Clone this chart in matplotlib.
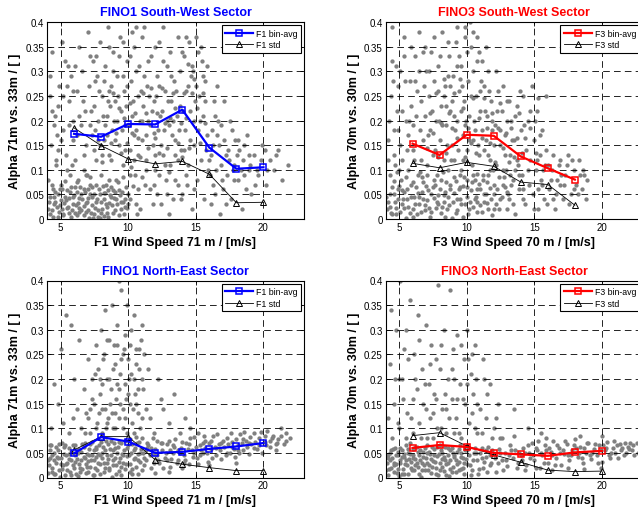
import matplotlib
matplotlib.use("Agg")
import matplotlib.pyplot as plt

plt.rcParams['font.family'] = ['Liberation Sans', 'DejaVu Sans']

# bin centres (wind speed, m/s)
bins = [6, 8, 10, 12, 14, 16, 18, 20]
bins_f3sw = [6, 8, 10, 12, 14, 16, 18]

# bin averages and standard deviations
f1_sw_avg = [0.173, 0.167, 0.193, 0.192, 0.222, 0.145, 0.102, 0.105]
f1_sw_std = [0.185, 0.149, 0.122, 0.112, 0.117, 0.091, 0.033, 0.034]
f3_sw_avg = [0.153, 0.130, 0.171, 0.169, 0.127, 0.103, 0.080]
f3_sw_std = [0.113, 0.104, 0.115, 0.107, 0.075, 0.070, 0.028]
f1_ne_avg = [0.049, 0.082, 0.073, 0.050, 0.052, 0.058, 0.063, 0.070]
f1_ne_std = [0.056, 0.083, 0.083, 0.036, 0.027, 0.020, 0.014, 0.014]
f3_ne_avg = [0.060, 0.066, 0.062, 0.050, 0.047, 0.044, 0.051, 0.054]
f3_ne_std = [0.085, 0.091, 0.064, 0.046, 0.031, 0.015, 0.012, 0.013]

# scatter clouds
f1_sw_pts = [
    (4.2,0.01),(4.5,0.03),(4.8,0.005),(5.1,0.02),(5.3,0.045),(5.6,0.012),(5.9,0.03),(6.2,0.008),(6.4,0.022),(6.6,0.04),
    (6.9,0.015),(7.1,0.003),(7.3,0.028),(7.5,0.05),(7.8,0.018),(8.0,0.035),(8.2,0.006),(8.4,0.025),(8.7,0.045),(8.9,0.012),
    (9.2,0.03),(9.5,0.02),(9.8,0.04),(4.6,0.055),(5.0,0.038),(5.5,0.058),(6.0,0.048),(6.8,0.055),(7.6,0.035),(8.5,0.058),
    (9.0,0.055),(9.7,0.01),(6.3,0.032),(7.0,0.042),(7.9,0.002),(8.8,0.028),(5.8,0.005),(4.9,0.015),(6.7,0.026),(9.4,0.048),
    (4.15,0.035),(4.35,0.018),(4.55,0.045),(4.75,0.025),(4.95,0.06),(5.15,0.008),(5.25,0.032),(5.45,0.022),(5.65,0.042),(5.85,0.018),
    (6.05,0.065),(6.15,0.028),(6.35,0.015),(6.55,0.05),(6.75,0.008),(6.95,0.035),(7.05,0.06),(7.25,0.012),(7.35,0.045),(7.55,0.022),
    (7.65,0.07),(7.75,0.004),(7.95,0.05),(8.05,0.02),(8.15,0.068),(8.25,0.04),(8.45,0.012),(8.55,0.032),(8.75,0.065),(8.95,0.042),
    (9.05,0.018),(9.25,0.075),(9.35,0.008),(9.55,0.055),(9.65,0.035),(9.85,0.065),(9.95,0.022),(10.15,0.04),(10.35,0.068),(10.55,0.03),
    (6.25,0.075),(7.15,0.085),(8.6,0.08),(5.35,0.078),(6.85,0.09),(4.4,0.07),(5.75,0.065),(7.4,0.002),(8.3,0.052),(9.6,0.085),
    (4.05,0.02),(4.25,0.045),(4.45,0.005),(4.6,0.035),(4.8,0.05),(4.95,0.028),(5.1,0.06),(5.2,0.01),(5.4,0.038),(5.55,0.025),
    (5.7,0.055),(5.9,0.045),(6.05,0.012),(6.2,0.055),(6.4,0.042),(6.55,0.018),(6.7,0.06),(6.85,0.032),(7.0,0.018),(7.2,0.05),
    (7.35,0.065),(7.5,0.01),(7.7,0.04),(7.85,0.06),(8.0,0.012),(8.2,0.052),(8.35,0.03),(8.5,0.005),(8.65,0.048),(8.85,0.058),
    (9.1,0.04),(9.3,0.058),(9.5,0.035),(9.75,0.025),(10.0,0.03),
    (4.1,0.08),(4.3,0.15),(4.4,0.34),(4.6,0.21),(4.7,0.11),(4.9,0.27),(5.0,0.07),(5.2,0.18),(5.3,0.32),(5.4,0.13),
    (5.6,0.24),(5.7,0.09),(5.8,0.29),(5.9,0.16),(4.2,0.25),(4.5,0.19),(5.1,0.36),(5.5,0.1),(4.8,0.14),(5.95,0.2),
    (4.25,0.29),(4.45,0.06),(4.65,0.12),(4.85,0.23),(5.05,0.16),(5.45,0.27),(5.65,0.19),(5.85,0.11),(6.05,0.31),(6.25,0.17),
    (6.65,0.24),(6.95,0.09),(7.25,0.22),(7.55,0.28),(7.75,0.16),
    (4.35,0.22),(4.75,0.17),(5.15,0.25),(5.55,0.31),(5.95,0.26),(6.35,0.21),(6.75,0.13),(7.15,0.33),(7.55,0.18),(7.95,0.15),
    (6.1,0.12),(6.2,0.26),(6.3,0.08),(6.4,0.35),(6.5,0.19),(6.6,0.3),(6.7,0.1),(6.8,0.22),(6.9,0.15),(7.0,0.38),
    (7.1,0.27),(7.2,0.07),(7.3,0.17),(7.4,0.32),(7.5,0.23),(7.6,0.12),(7.7,0.29),(7.8,0.2),(7.9,0.36),(8.0,0.09),
    (8.1,0.25),(8.2,0.16),(8.3,0.31),(8.4,0.21),(8.5,0.39),(8.6,0.13),(8.7,0.27),(8.8,0.18),(8.9,0.34),(9.0,0.24),
    (9.1,0.08),(9.2,0.29),(9.3,0.15),(9.4,0.37),(9.5,0.22),(9.6,0.11),(9.7,0.26),(9.8,0.19),(9.9,0.32),(8.35,0.07),
    (7.45,0.14),(6.45,0.065),(9.15,0.2),(8.65,0.23),(7.85,0.26),
    (8.05,0.13),(8.15,0.21),(8.25,0.28),(8.45,0.17),(8.55,0.26),(8.75,0.12),(8.85,0.3),(8.95,0.2),(9.05,0.16),(9.25,0.25),
    (9.35,0.33),(9.55,0.18),(9.65,0.29),(9.75,0.14),(9.85,0.23),(9.95,0.27),(10.05,0.19),(10.15,0.33),(10.35,0.24),(10.45,0.17),
    (10.55,0.3),(10.75,0.13),(10.95,0.26),(11.05,0.2),(11.15,0.29),(11.35,0.17),(11.55,0.25),(11.75,0.22),(11.95,0.13),(12.25,0.27),
    (12.35,0.21),(12.55,0.32),(12.65,0.18),(12.75,0.11),(12.95,0.24),(13.15,0.29),(13.35,0.2),(13.45,0.13),(13.55,0.26),(13.75,0.18),
    (13.85,0.23),(13.95,0.34),(14.05,0.22),(14.45,0.27),(14.55,0.16),(14.75,0.31),(14.95,0.24),(15.15,0.18),(15.35,0.35),(15.65,0.28),
    (10.1,0.09),(10.7,0.06),(11.3,0.1),(11.9,0.07),(12.3,0.09),(12.9,0.05),(13.5,0.08),(13.9,0.04),(14.3,0.09),(14.9,0.06),
    (11.0,0.37),(12.0,0.35),(12.6,0.39),(13.1,0.34),(13.7,0.37),(9.6,0.36),(10.6,0.39),(8.6,0.35),(7.6,0.33),(7.15,0.19),
    (8.1,0.115),(8.3,0.19),(8.5,0.24),(8.7,0.155),(8.9,0.255),(9.1,0.175),(9.3,0.225),(9.5,0.135),(9.7,0.205),(9.9,0.155),
    (10.1,0.235),(10.3,0.175),(10.5,0.215),(10.7,0.165),(10.9,0.125),(11.1,0.255),(11.3,0.215),(11.5,0.145),(11.7,0.265),(11.9,0.175),
    (12.1,0.215),(12.3,0.135),(12.5,0.265),(12.7,0.195),(12.9,0.145),(13.1,0.205),(13.3,0.255),(13.5,0.225),(13.7,0.155),(13.9,0.195),
    (14.1,0.255),(14.3,0.205),(14.5,0.145),(14.7,0.255),(14.9,0.285),(15.1,0.225),(15.3,0.155),(15.5,0.255),(15.7,0.195),(14.4,0.315),
    (10.2,0.105),(11.0,0.085),(12.0,0.165),(13.0,0.095),(14.0,0.125),
    (10.0,0.05),(10.1,0.14),(10.2,0.28),(10.3,0.21),(10.4,0.35),(10.5,0.09),(10.6,0.18),(10.7,0.25),(10.8,0.31),(10.9,0.02),
    (11.0,0.16),(11.1,0.23),(11.2,0.39),(11.3,0.12),(11.4,0.27),(11.5,0.2),(11.6,0.06),(11.7,0.33),(11.8,0.15),(11.9,0.24),
    (12.0,0.1),(12.1,0.29),(12.2,0.18),(12.3,0.36),(12.4,0.03),(12.5,0.22),(12.6,0.13),(12.7,0.26),(12.8,0.08),(12.9,0.31),
    (13.0,0.19),(13.1,0.11),(13.2,0.24),(13.3,0.04),(13.4,0.28),(13.5,0.16),(13.6,0.21),(13.7,0.07),(13.8,0.3),(13.9,0.14),
    (10.45,0.12),(10.85,0.2),(11.25,0.07),(11.65,0.19),(12.05,0.25),(12.45,0.15),(12.85,0.2),(13.25,0.17),(13.65,0.12),(10.25,0.38),
    (11.45,0.32),(10.65,0.01),(12.15,0.05),(13.05,0.01),(11.85,0.03),
    (14.0,0.05),(14.1,0.33),(14.2,0.18),(14.3,0.26),(14.4,0.11),(14.5,0.36),(14.6,0.22),(14.7,0.02),(14.8,0.3),(14.9,0.15),
    (15.0,0.27),(15.1,0.08),(15.2,0.34),(15.3,0.2),(15.4,0.12),(15.5,0.29),(15.6,0.04),(15.7,0.24),(15.8,0.17),(15.9,0.1),
    (14.25,0.37),(14.65,0.29),(15.05,0.37),(15.45,0.32),(14.35,0.07),(14.85,0.2),(15.25,0.25),(15.75,0.14),(14.15,0.14),(15.55,0.21),
    (16.0,0.12),(16.1,0.03),(16.2,0.18),(16.3,0.07),(16.4,0.21),(16.5,0.1),(16.7,0.15),(16.8,0.01),(16.9,0.19),(17.0,0.06),
    (17.2,0.13),(17.3,0.09),(17.5,0.2),(17.6,0.04),(17.8,0.11),(17.9,0.16),(18.1,0.08),(18.2,0.14),(18.4,0.02),(18.5,0.12),
    (18.7,0.06),(18.8,0.17),(18.9,0.1),(17.1,0.24),(16.6,0.27),
    (16.05,0.09),(16.25,0.15),(16.45,0.05),(16.65,0.2),(16.85,0.11),(17.05,0.16),(17.25,0.03),(17.45,0.12),(17.65,0.18),(17.85,0.08),
    (18.05,0.13),(18.35,0.1),(18.6,0.15),(19.0,0.11),(19.4,0.07),(19.8,0.12),(20.3,0.1),(20.9,0.13),(15.85,0.31),(16.35,0.24),
    (16.15,0.13),(16.55,0.17),(16.95,0.08),(17.35,0.14),(17.75,0.1),(18.15,0.16),(18.55,0.09),(18.95,0.13),(19.5,0.1),(20.1,0.14),
    (19.1,0.05),(19.3,0.13),(19.6,0.09),(19.9,0.15),(20.2,0.07),(20.5,0.12),(20.8,0.1),(21.1,0.14),(21.4,0.08),(21.8,0.11),
]

f3_sw_pts = [
    (4.1,0.02),(4.3,0.05),(4.5,0.01),(4.7,0.035),(4.9,0.06),(5.1,0.015),(5.3,0.04),(5.5,0.003),(5.7,0.025),(5.9,0.07),
    (6.1,0.045),(6.3,0.01),(6.5,0.03),(6.7,0.055),(6.9,0.018),(7.1,0.038),(7.3,0.005),(7.5,0.065),(7.7,0.022),(7.9,0.048),
    (8.1,0.012),(8.3,0.035),(8.5,0.075),(8.7,0.028),(8.9,0.002),(9.1,0.052),(9.3,0.018),(9.5,0.04),(9.7,0.068),(9.9,0.03),
    (10.1,0.01),(10.3,0.058),(10.5,0.024),(10.7,0.045),(10.9,0.072),(11.1,0.015),(11.3,0.05),(11.5,0.032),(11.7,0.062),(11.9,0.008),
    (4.6,0.078),(5.2,0.058),(6.0,0.02),(6.8,0.075),(7.6,0.042),(8.4,0.055),(9.2,0.078),(10.0,0.065),(10.8,0.035),(11.6,0.02),
    (4.2,0.035),(4.4,0.012),(4.6,0.05),(4.8,0.022),(5.0,0.068),(5.2,0.03),(5.4,0.055),(5.6,0.04),(5.8,0.012),(6.0,0.075),
    (6.2,0.03),(6.4,0.052),(6.6,0.014),(6.8,0.04),(7.0,0.068),(7.2,0.022),(7.4,0.05),(7.6,0.08),(7.8,0.035),(8.0,0.06),
    (8.2,0.025),(8.4,0.005),(8.6,0.045),(8.8,0.07),(9.0,0.035),(9.2,0.012),(9.4,0.06),(9.6,0.03),(9.8,0.085),(10.0,0.045),
    (10.2,0.02),(10.4,0.075),(10.6,0.04),(10.8,0.06),(11.0,0.028),(11.2,0.08),(11.4,0.05),(11.6,0.09),(11.8,0.04),(12.0,0.07),
    (12.2,0.03),(12.4,0.085),(12.6,0.045),(12.8,0.065),(13.0,0.02),(13.2,0.09),(7.05,0.09),(8.25,0.095),(9.55,0.1),(10.75,0.092),
    (5.55,0.085),(6.55,0.095),(4.85,0.095),(11.95,0.1),(12.7,0.1),
    (4.05,0.045),(4.3,0.025),(4.5,0.065),(4.75,0.01),(4.95,0.04),(5.15,0.08),(5.35,0.022),(5.6,0.06),(5.85,0.045),(6.05,0.005),
    (6.25,0.065),(6.5,0.045),(6.7,0.085),(6.95,0.028),(7.15,0.058),(7.4,0.015),(7.65,0.07),(7.9,0.03),(8.1,0.08),(8.3,0.048),
    (8.55,0.02),(8.8,0.06),(9.05,0.085),(9.3,0.04),(9.5,0.065),(9.75,0.005),(10.0,0.08),(10.25,0.035),(10.5,0.09),(10.75,0.015),
    (11.0,0.06),(11.25,0.035),(11.5,0.075),(11.75,0.1),(12.0,0.02),(12.25,0.06),(12.5,0.04),(12.75,0.085),(13.0,0.055),(13.3,0.07),
    (4.2,0.12),(4.4,0.25),(4.6,0.18),(4.8,0.31),(5.0,0.1),(5.2,0.22),(5.4,0.37),(5.6,0.14),(5.8,0.28),(6.0,0.19),
    (6.2,0.33),(6.4,0.09),(6.6,0.24),(6.8,0.16),(7.0,0.3),(4.5,0.39),(5.5,0.2),(6.5,0.38),(5.1,0.15),(6.1,0.12),
    (4.3,0.09),(5.9,0.35),(6.9,0.21),(4.9,0.27),(6.3,0.26),
    (4.25,0.2),(4.45,0.32),(4.65,0.13),(4.85,0.22),(5.05,0.3),(5.25,0.12),(5.45,0.28),(5.65,0.17),(5.85,0.23),(6.05,0.14),
    (6.25,0.21),(6.45,0.3),(6.65,0.12),(6.85,0.27),(6.95,0.35),
    (4.15,0.16),(4.55,0.28),(4.95,0.18),(5.35,0.33),(5.75,0.2),(6.15,0.28),(6.55,0.18),(6.75,0.34),(4.7,0.11),(5.7,0.1),
    (7.1,0.11),(7.2,0.25),(7.3,0.18),(7.4,0.34),(7.5,0.13),(7.6,0.28),(7.7,0.2),(7.8,0.09),(7.9,0.31),(8.0,0.16),
    (8.1,0.23),(8.2,0.38),(8.3,0.12),(8.4,0.27),(8.5,0.19),(8.6,0.1),(8.7,0.33),(8.8,0.22),(8.9,0.15),(9.0,0.29),
    (9.1,0.12),(9.2,0.36),(9.3,0.2),(9.4,0.26),(9.5,0.09),(9.6,0.31),(9.7,0.17),(9.8,0.24),(9.9,0.39),(10.0,0.14),
    (10.1,0.28),(10.2,0.21),(10.3,0.35),(10.4,0.11),(10.5,0.3),(10.6,0.18),(10.7,0.25),(10.8,0.37),(10.9,0.13),(11.0,0.22),
    (11.1,0.32),(11.2,0.09),(11.3,0.27),(11.4,0.16),(11.5,0.21),(11.6,0.3),(11.7,0.12),(11.8,0.24),(11.9,0.18),(9.45,0.33),
    (10.25,0.4),(9.85,0.19),(10.65,0.08),(8.45,0.23),(10.95,0.26),(9.05,0.21),(10.45,0.16),(11.25,0.14),(7.95,0.2),(8.75,0.27),
    (7.15,0.17),(7.25,0.3),(7.45,0.22),(7.65,0.14),(7.85,0.26),(8.05,0.33),(8.15,0.19),(8.35,0.25),(8.55,0.15),(8.65,0.29),
    (8.85,0.12),(8.95,0.24),(9.15,0.18),(9.25,0.31),(9.35,0.14),(9.55,0.22),(9.65,0.27),(9.75,0.12),(9.95,0.2),(10.05,0.34),
    (10.15,0.16),(10.35,0.25),(10.55,0.2),(10.75,0.32),(10.85,0.15),(11.05,0.28),(11.15,0.18),(11.35,0.22),(11.55,0.13),(11.65,0.26),
    (11.85,0.2),(12.05,0.15),(12.15,0.3),(12.25,0.22),(12.45,0.18),(12.65,0.27),(12.85,0.13),(12.95,0.2),(13.15,0.24),(13.35,0.16),
    (13.55,0.21),(13.75,0.12),(13.95,0.26),(14.25,0.19),(14.65,0.22),(15.05,0.2),(15.45,0.17),(15.85,0.14),(9.9,0.37),(10.5,0.38),
    (9.3,0.39),(8.6,0.36),(11.4,0.35),(10.9,0.34),(7.6,0.37),
    (7.1,0.145),(7.3,0.215),(7.5,0.175),(7.7,0.255),(7.9,0.125),(8.1,0.195),(8.3,0.285),(8.5,0.135),(8.7,0.215),(8.9,0.185),
    (9.1,0.255),(9.3,0.165),(9.5,0.285),(9.7,0.225),(9.9,0.125),(10.1,0.185),(10.3,0.155),(10.5,0.245),(10.7,0.135),(10.9,0.205),
    (11.1,0.165),(11.3,0.245),(11.5,0.185),(11.7,0.155),(11.9,0.215),(12.1,0.115),(12.3,0.185),(12.5,0.235),(12.7,0.145),(12.9,0.175),
    (13.1,0.115),(13.3,0.185),(13.5,0.125),(13.7,0.165),(13.9,0.215),(14.1,0.135),(14.3,0.165),(14.7,0.185),(15.1,0.135),(15.3,0.245),
    (12.0,0.05),(12.1,0.19),(12.2,0.11),(12.3,0.26),(12.4,0.02),(12.5,0.15),(12.6,0.22),(12.7,0.07),(12.8,0.17),(12.9,0.1),
    (13.0,0.24),(13.1,0.04),(13.2,0.13),(13.3,0.2),(13.4,0.08),(13.5,0.16),(13.6,0.01),(13.7,0.23),(13.8,0.11),(13.9,0.06),
    (14.0,0.18),(14.1,0.09),(14.2,0.25),(14.3,0.03),(14.4,0.14),(14.5,0.2),(14.6,0.07),(14.7,0.12),(14.8,0.27),(14.9,0.05),
    (15.0,0.16),(15.1,0.1),(15.2,0.22),(15.3,0.02),(15.4,0.13),(15.5,0.08),(15.6,0.18),(15.7,0.04),(15.8,0.11),(15.9,0.25),
    (13.05,0.05),(13.45,0.03),(13.85,0.09),(14.15,0.04),(14.55,0.1),(14.95,0.02),(15.25,0.06),(15.65,0.1),(15.95,0.03),(16.2,0.08),
    (16.6,0.05),(16.8,0.11),(17.2,0.07),(17.6,0.03),(17.8,0.12),(18.2,0.05),(18.6,0.1),(18.8,0.04),(17.0,0.09),(16.4,0.13),
    (15.6,0.07),(16.0,0.11),(16.4,0.04),(16.9,0.07),(17.4,0.11),(17.9,0.06),(18.4,0.09),(15.2,0.12),(14.2,0.06),(13.6,0.1),
    (16.1,0.06),(16.3,0.1),(16.5,0.02),(16.7,0.08),(16.9,0.12),(17.1,0.04),(17.3,0.09),(17.5,0.13),(17.7,0.05),(17.9,0.1),
    (18.1,0.07),(18.3,0.12),(18.5,0.06),(18.7,0.09),(18.9,0.08),
]

f1_ne_pts = [
    (4.1,0.01),(4.2,0.04),(4.3,0.065),(4.4,0.02),(4.5,0.05),(4.6,0.008),(4.7,0.03),(4.8,0.055),(4.9,0.015),(5.0,0.04),
    (5.1,0.07),(5.2,0.025),(5.3,0.005),(5.4,0.045),(5.5,0.03),(5.6,0.06),(5.7,0.012),(5.8,0.035),(5.9,0.05),(6.0,0.02),
    (6.1,0.065),(6.2,0.038),(6.3,0.003),(6.4,0.028),(6.5,0.052),(6.6,0.018),(6.7,0.042),(6.8,0.07),(6.9,0.01),(7.0,0.033),
    (7.1,0.058),(7.2,0.022),(7.3,0.046),(7.4,0.006),(7.5,0.036),(7.6,0.062),(7.7,0.016),(7.8,0.048),(7.9,0.027),(8.0,0.072),
    (8.1,0.04),(8.2,0.012),(8.3,0.055),(8.4,0.03),(8.5,0.068),(8.6,0.02),(8.7,0.045),(8.8,0.002),(8.9,0.035),(9.0,0.06),
    (9.1,0.025),(9.2,0.05),(9.3,0.014),(9.4,0.04),(9.5,0.07),(9.6,0.03),(9.7,0.055),(9.8,0.018),(9.9,0.044),(10.0,0.065),
    (10.1,0.028),(10.2,0.05),(10.3,0.008),(10.4,0.038),(10.5,0.06),(10.6,0.022),(10.7,0.047),(10.8,0.072),(10.9,0.032),(11.0,0.015),
    (4.15,0.025),(4.25,0.055),(4.35,0.012),(4.55,0.035),(4.65,0.062),(4.85,0.04),(4.95,0.002),(5.05,0.028),(5.25,0.048),(5.35,0.065),
    (5.45,0.015),(5.65,0.038),(5.75,0.052),(5.95,0.025),(6.05,0.045),(6.15,0.008),(6.35,0.058),(6.45,0.02),(6.55,0.035),(6.75,0.062),
    (6.85,0.028),(6.95,0.048),(7.05,0.012),(7.15,0.068),(7.25,0.035),(7.45,0.055),(7.55,0.02),(7.65,0.042),(7.85,0.065),(7.95,0.008),
    (8.05,0.05),(8.25,0.03),(8.35,0.075),(8.45,0.045),(8.55,0.015),(8.65,0.058),(8.85,0.025),(8.95,0.07),(9.05,0.04),(9.25,0.062),
    (9.35,0.032),(9.45,0.005),(9.55,0.048),(9.75,0.075),(9.85,0.028),(10.05,0.045),(10.15,0.078),(10.25,0.018),(10.45,0.055),(10.65,0.07),
    (10.75,0.035),(10.95,0.058),(11.05,0.08),(11.2,0.04),(11.4,0.06),
    (4.05,0.035),(4.2,0.065),(4.4,0.045),(4.55,0.008),(4.75,0.042),(4.9,0.068),(5.1,0.018),(5.25,0.062),(5.4,0.028),(5.6,0.048),
    (5.8,0.006),(5.95,0.065),(6.1,0.032),(6.3,0.05),(6.45,0.012),(6.6,0.068),(6.8,0.04),(6.95,0.022),(7.1,0.045),(7.3,0.072),
    (7.5,0.005),(7.65,0.058),(7.8,0.03),(7.95,0.045),(8.15,0.062),(8.3,0.02),(8.5,0.038),(8.7,0.075),(8.9,0.055),(9.1,0.008),
    (9.3,0.072),(9.5,0.022),(9.65,0.045),(9.9,0.06),(10.1,0.012),(10.3,0.068),(10.5,0.04),(10.7,0.008),(10.9,0.05),(10.6,0.082),
    (11.1,0.05),(11.3,0.035),(11.5,0.065),(11.7,0.02),(11.9,0.048),(12.1,0.075),(12.3,0.03),(12.5,0.055),(12.7,0.04),(12.9,0.068),
    (13.1,0.022),(13.3,0.05),(13.5,0.078),(13.7,0.035),(13.9,0.06),(14.1,0.045),(14.3,0.07),(14.5,0.028),(14.7,0.055),(14.9,0.082),
    (15.1,0.04),(15.3,0.065),(15.5,0.05),(15.7,0.075),(15.9,0.032),(16.1,0.058),(16.3,0.085),(16.5,0.045),(16.7,0.068),(16.9,0.038),
    (17.1,0.062),(17.3,0.08),(17.5,0.05),(17.7,0.072),(17.9,0.042),(18.1,0.065),(18.3,0.088),(18.5,0.055),(18.7,0.075),(18.9,0.048),
    (19.1,0.068),(19.3,0.09),(19.5,0.058),(19.7,0.08),(19.9,0.05),(20.1,0.072),(20.3,0.095),(20.5,0.062),(20.7,0.085),(20.9,0.055),
    (21.1,0.078),(21.3,0.1),(21.5,0.068),(21.7,0.09),(22.0,0.08),(12.0,0.01),(13.0,0.012),(14.0,0.02),(16.0,0.025),(18.0,0.03),
    (11.2,0.025),(11.4,0.07),(11.6,0.045),(11.8,0.08),(12.0,0.058),(12.2,0.035),(12.4,0.07),(12.6,0.02),(12.8,0.05),(13.0,0.075),
    (13.2,0.038),(13.4,0.062),(13.6,0.03),(13.8,0.05),(14.0,0.072),(14.2,0.035),(14.4,0.058),(14.6,0.08),(14.8,0.042),(15.0,0.062),
    (15.2,0.028),(15.4,0.055),(15.6,0.085),(15.8,0.05),(16.0,0.07),(16.2,0.04),(16.4,0.062),(16.6,0.088),(16.8,0.055),(17.0,0.075),
    (17.2,0.045),(17.4,0.068),(17.6,0.09),(17.8,0.058),(18.0,0.078),(18.2,0.05),(18.4,0.07),(18.6,0.092),(18.8,0.062),(19.0,0.082),
    (19.4,0.072),(19.8,0.092),(20.2,0.065),(20.6,0.08),(21.0,0.07),
    (11.3,0.055),(11.7,0.06),(12.1,0.045),(12.5,0.07),(12.9,0.035),(13.3,0.065),(13.7,0.055),(14.1,0.03),(14.5,0.068),(14.9,0.05),
    (15.3,0.045),(15.7,0.06),(16.1,0.075),(16.5,0.06),(16.9,0.07),(17.3,0.05),(17.7,0.062),(18.1,0.055),(18.5,0.078),(18.9,0.07),
    (19.3,0.06),(19.7,0.065),(20.1,0.085),(20.5,0.075),(20.9,0.068),(21.3,0.085),(21.7,0.075),(11.9,0.03),(13.1,0.055),(15.5,0.07),
    (6.5,0.1),(6.7,0.18),(6.9,0.13),(7.0,0.24),(7.2,0.09),(7.3,0.2),(7.5,0.15),(7.6,0.27),(7.7,0.11),(7.8,0.22),
    (7.9,0.17),(8.0,0.3),(8.1,0.09),(8.2,0.25),(8.3,0.14),(8.4,0.2),(8.5,0.12),(8.6,0.28),(8.7,0.18),(8.8,0.35),
    (8.9,0.1),(9.0,0.23),(9.1,0.16),(9.2,0.27),(9.3,0.12),(9.4,0.21),(9.5,0.38),(9.6,0.14),(9.7,0.26),(9.8,0.19),
    (9.9,0.09),(10.0,0.24),(10.1,0.15),(10.2,0.3),(10.3,0.11),(10.4,0.2),(10.5,0.17),(10.6,0.26),(10.7,0.13),(10.8,0.22),
    (10.9,0.1),(11.0,0.31),(11.1,0.18),(11.2,0.25),(11.3,0.14),(9.3,0.4),(10.4,0.33),(8.3,0.34),
    (7.05,0.12),(7.35,0.16),(7.55,0.21),(7.85,0.13),(8.05,0.19),(8.15,0.24),(8.35,0.1),(8.45,0.28),(8.65,0.15),(8.85,0.22),
    (8.95,0.27),(9.05,0.13),(9.15,0.31),(9.35,0.18),(9.45,0.24),(9.65,0.1),(9.75,0.29),(9.85,0.16),(10.05,0.2),(10.15,0.27),
    (10.35,0.14),(10.55,0.23),(10.75,0.18),(11.05,0.12),(10.95,0.28),
    (6.8,0.09),(7.2,0.14),(7.6,0.1),(7.9,0.2),(8.1,0.14),(8.4,0.11),(8.6,0.2),(8.8,0.13),(9.0,0.1),(9.2,0.19),
    (9.4,0.15),(9.6,0.25),(9.8,0.12),(10.0,0.17),(10.2,0.21),(10.4,0.09),(10.6,0.15),(10.8,0.26),(11.0,0.2),(9.9,0.35),
    (4.3,0.1),(4.5,0.19),(4.8,0.15),(5.0,0.26),(5.2,0.11),(5.4,0.33),(5.6,0.09),(5.8,0.31),(6.0,0.2),(6.2,0.14),
    (6.4,0.28),(5.9,0.12),
    (11.6,0.12),(11.9,0.09),(12.2,0.2),(12.6,0.14),(13.0,0.11),(13.4,0.17),(13.8,0.09),(14.2,0.12),(14.6,0.1),(15.2,0.09),
    (11.5,0.22),(12.4,0.16),
]

f3_ne_pts = [
    (4.1,0.03),(4.2,0.006),(4.3,0.05),(4.4,0.02),(4.5,0.04),(4.6,0.012),(4.7,0.06),(4.8,0.028),(4.9,0.045),(5.0,0.004),
    (5.1,0.035),(5.2,0.055),(5.3,0.018),(5.4,0.042),(5.5,0.065),(5.6,0.025),(5.7,0.008),(5.8,0.048),(5.9,0.032),(6.0,0.058),
    (6.1,0.015),(6.2,0.038),(6.3,0.062),(6.4,0.022),(6.5,0.045),(6.6,0.002),(6.7,0.03),(6.8,0.052),(6.9,0.016),(7.0,0.04),
    (7.1,0.065),(7.2,0.026),(7.3,0.048),(7.4,0.01),(7.5,0.034),(7.6,0.058),(7.7,0.02),(7.8,0.044),(7.9,0.006),(8.0,0.03),
    (8.1,0.055),(8.2,0.038),(8.3,0.014),(8.4,0.062),(8.5,0.028),(8.6,0.046),(8.7,0.004),(8.8,0.036),(8.9,0.06),(9.0,0.022),
    (9.1,0.042),(9.2,0.012),(9.3,0.052),(9.4,0.032),(9.5,0.065),(9.6,0.018),(9.7,0.04),(9.8,0.008),(9.9,0.056),(10.0,0.028),
    (10.2,0.045),(10.4,0.015),(10.6,0.06),(10.8,0.035),(11.0,0.05),(11.2,0.02),(11.4,0.042),(11.6,0.062),(11.8,0.03),(12.0,0.048),
    (12.2,0.012),(12.4,0.058),(12.6,0.036),(12.8,0.05),(13.0,0.024),(13.2,0.066),(13.4,0.04),(13.6,0.055),(13.8,0.03),(14.0,0.045),
    (4.15,0.045),(4.25,0.018),(4.35,0.035),(4.55,0.058),(4.65,0.025),(4.85,0.01),(4.95,0.052),(5.05,0.03),(5.25,0.042),(5.35,0.008),
    (5.45,0.028),(5.65,0.05),(5.75,0.038),(5.95,0.015),(6.05,0.04),(6.15,0.062),(6.35,0.03),(6.45,0.008),(6.55,0.055),(6.75,0.042),
    (6.85,0.025),(7.05,0.05),(7.15,0.015),(7.35,0.038),(7.45,0.062),(7.65,0.032),(7.75,0.008),(7.95,0.048),(8.05,0.065),(8.15,0.022),
    (8.35,0.042),(8.45,0.005),(8.65,0.03),(8.75,0.055),(8.95,0.012),(9.05,0.045),(9.25,0.028),(9.45,0.058),(9.55,0.042),(9.75,0.02),
    (9.95,0.038),(10.1,0.062),(10.3,0.005),(10.5,0.035),(10.7,0.05),(10.9,0.018),(11.1,0.06),(11.3,0.032),(11.5,0.012),(11.7,0.045),
    (11.9,0.055),(12.3,0.03),(12.7,0.015),(13.1,0.045),(13.7,0.02),
    (4.05,0.015),(4.2,0.04),(4.4,0.055),(4.6,0.03),(4.75,0.045),(4.9,0.018),(5.05,0.06),(5.2,0.008),(5.35,0.048),(5.55,0.035),
    (5.7,0.058),(5.85,0.02),(6.0,0.045),(6.2,0.025),(6.4,0.052),(6.55,0.035),(6.7,0.015),(6.9,0.06),(7.05,0.03),(7.25,0.052),
    (7.45,0.022),(7.6,0.045),(7.8,0.062),(8.0,0.015),(8.2,0.05),(8.4,0.035),(8.6,0.06),(8.8,0.018),(9.0,0.05),(9.2,0.035),
    (9.4,0.015),(9.6,0.05),(9.8,0.03),(10.0,0.055),(10.25,0.025),(10.55,0.05),(10.85,0.008),(11.15,0.04),(11.45,0.055),(11.75,0.025),
    (12.1,0.04),(12.5,0.05),(12.9,0.035),(13.3,0.055),(13.9,0.05),
    (14.2,0.06),(14.4,0.025),(14.6,0.05),(14.8,0.07),(15.0,0.035),(15.2,0.055),(15.4,0.02),(15.6,0.045),(15.8,0.065),(16.0,0.03),
    (16.2,0.052),(16.4,0.075),(16.6,0.04),(16.8,0.06),(17.0,0.025),(17.2,0.048),(17.4,0.068),(17.6,0.035),(17.8,0.055),(18.0,0.078),
    (18.2,0.042),(18.4,0.062),(18.6,0.03),(18.8,0.05),(19.0,0.07),(19.2,0.038),(19.4,0.058),(19.6,0.045),(19.8,0.065),(20.0,0.032),
    (20.2,0.055),(20.4,0.072),(20.6,0.04),(20.8,0.06),(21.0,0.05),(21.3,0.068),(21.6,0.045),(21.9,0.062),(22.2,0.055),(22.6,0.07),
    (12.5,0.08),(13.5,0.085),(15.5,0.09),(20.0,0.085),(22.8,0.03),
    (14.1,0.035),(14.5,0.065),(14.9,0.045),(15.3,0.075),(15.7,0.03),(16.1,0.06),(16.5,0.025),(16.9,0.05),(17.3,0.075),(17.7,0.045),
    (18.1,0.06),(18.5,0.04),(18.9,0.07),(19.3,0.05),(19.7,0.03),(20.1,0.065),(20.5,0.045),(20.9,0.075),(21.2,0.04),(21.5,0.06),
    (21.8,0.05),(22.1,0.07),(22.4,0.045),(22.8,0.062),(14.3,0.015),(15.1,0.02),(16.3,0.015),(17.5,0.02),(18.7,0.018),(19.9,0.02),
    (14.3,0.05),(14.7,0.04),(15.1,0.06),(15.5,0.05),(15.9,0.055),(16.3,0.045),(16.7,0.065),(17.1,0.055),(17.5,0.045),(17.9,0.065),
    (18.3,0.05),(18.7,0.06),(19.1,0.045),(19.5,0.068),(19.9,0.055),(20.3,0.06),(20.7,0.05),(21.1,0.065),(21.4,0.055),(21.7,0.07),
    (22.0,0.058),(22.3,0.065),(22.7,0.05),(15.9,0.08),(18.4,0.085),
    (4.2,0.12),(4.3,0.23),(4.4,0.34),(4.6,0.15),(4.8,0.3),(5.0,0.1),(5.1,0.4),(5.2,0.2),(5.4,0.26),(5.6,0.13),
    (5.8,0.36),(6.0,0.09),(6.1,0.25),(6.3,0.18),(6.4,0.33),(6.5,0.11),(6.7,0.22),(6.8,0.15),(7.0,0.31),(7.1,0.08),
    (7.2,0.19),(7.4,0.27),(7.5,0.13),(7.6,0.17),(7.8,0.1),(7.9,0.39),(8.0,0.22),(8.2,0.14),(8.3,0.3),(8.5,0.09),
    (8.6,0.2),(8.8,0.38),(8.9,0.16),(9.0,0.26),(9.2,0.12),(9.3,0.29),(9.5,0.19),(9.6,0.08),(9.8,0.24),(9.9,0.15),
    (10.0,0.3),(10.2,0.11),(10.3,0.21),(10.5,0.17),(10.6,0.27),(10.8,0.09),(11.0,0.14),(11.2,0.24),(11.4,0.12),(11.7,0.19),
    (12.0,0.1),(12.3,0.15),(12.6,0.08),(13.5,0.14),(14.5,0.1),
    (4.5,0.08),(4.7,0.2),(4.9,0.11),(5.3,0.16),(5.5,0.08),(5.7,0.24),(5.9,0.12),(6.2,0.2),(6.6,0.08),(6.9,0.19),
    (7.3,0.12),(7.7,0.24),(8.1,0.1),(8.4,0.17),(8.7,0.12),(9.1,0.2),(9.4,0.09),(9.7,0.16),(10.1,0.24),(10.4,0.13),
    (10.7,0.2),(11.1,0.09),(11.5,0.17),(11.9,0.08),(12.2,0.12),
    (5.0,0.2),(5.5,0.3),(6.0,0.16),(6.5,0.28),(7.0,0.14),(7.3,0.23),(7.7,0.16),(8.1,0.27),(8.5,0.14),(8.9,0.22),
    (9.3,0.16),(9.6,0.27),(10.0,0.19),(10.4,0.25),(10.8,0.15),(11.3,0.2),(9.1,0.09),(10.6,0.1),(7.5,0.08),(5.8,0.07),
]

yticks = [0, 0.05, 0.1, 0.15, 0.2, 0.25, 0.3, 0.35, 0.4]
ytick_labels = ['0', '0.05', '0.1', '0.15', '0.2', '0.25', '0.3', '0.35', '0.4']
xticks = [5, 10, 15, 20]

fig = plt.figure(figsize=(6.38, 5.10), dpi=100)

def panel(rect, pts, xb, avg, std, col, tag, title, xlab, ylab):
    ax = fig.add_axes(rect)
    px, py = zip(*pts)
    ax.plot(px, py, 'o', color='#808080', ms=3.1, mew=0, zorder=1)
    ax.plot(xb, avg, '-s', color=col, lw=1.6, ms=5, mfc='none', mew=1.1,
            label=tag + ' bin-avg', zorder=3)
    ax.plot(xb, std, '-^', color='k', lw=0.6, ms=5, mfc='none', mew=0.7,
            label=tag + ' std', zorder=2)
    ax.set_xlim(4, 23)
    ax.set_ylim(0, 0.4)
    ax.set_xticks(xticks)
    ax.set_yticks(yticks)
    ax.set_yticklabels(ytick_labels)
    ax.tick_params(direction='in', length=3, width=0.6, labelsize=7, pad=2,
                   top=True, right=True)
    ax.grid(True, color='k', linestyle=(0, (8, 5)), linewidth=0.6)
    for s in ax.spines.values():
        s.set_linewidth(0.8)
    ax.set_title(title, color=col, fontsize=9, fontweight='bold', pad=5)
    ax.set_xlabel(xlab, fontsize=9, fontweight='bold', labelpad=3)
    ax.set_ylabel(ylab, fontsize=9, fontweight='bold', labelpad=3)
    leg = ax.legend(loc='upper right', fontsize=6.3, fancybox=False, framealpha=1,
                    edgecolor='k', handlelength=3.2, borderaxespad=0.35,
                    labelspacing=0.3, borderpad=0.4, handletextpad=0.3)
    leg.get_frame().set_linewidth(0.8)
    return ax

W = 257 / 638
H = 197 / 510
panel([47 / 638, 1 - 220 / 510, W, H], f1_sw_pts, bins, f1_sw_avg, f1_sw_std, '#0000FF', 'F1',
      'FINO1 South-West Sector', 'F1 Wind Speed 71 m / [m/s]', 'Alpha 71m vs. 33m / [ ]')
panel([385.5 / 638, 1 - 220 / 510, W, H], f3_sw_pts, bins_f3sw, f3_sw_avg, f3_sw_std, '#FF0000', 'F3',
      'FINO3 South-West Sector', 'F3 Wind Speed 70 m / [m/s]', 'Alpha 70m vs. 30m / [ ]')
panel([47 / 638, 1 - 478.5 / 510, W, H], f1_ne_pts, bins, f1_ne_avg, f1_ne_std, '#0000FF', 'F1',
      'FINO1 North-East Sector', 'F1 Wind Speed 71 m / [m/s]', 'Alpha 71m vs. 33m / [ ]')
panel([385.5 / 638, 1 - 478.5 / 510, W, H], f3_ne_pts, bins, f3_ne_avg, f3_ne_std, '#FF0000', 'F3',
      'FINO3 North-East Sector', 'F3 Wind Speed 70 m / [m/s]', 'Alpha 70m vs. 30m / [ ]')

fig.savefig('out.png', dpi=100)
